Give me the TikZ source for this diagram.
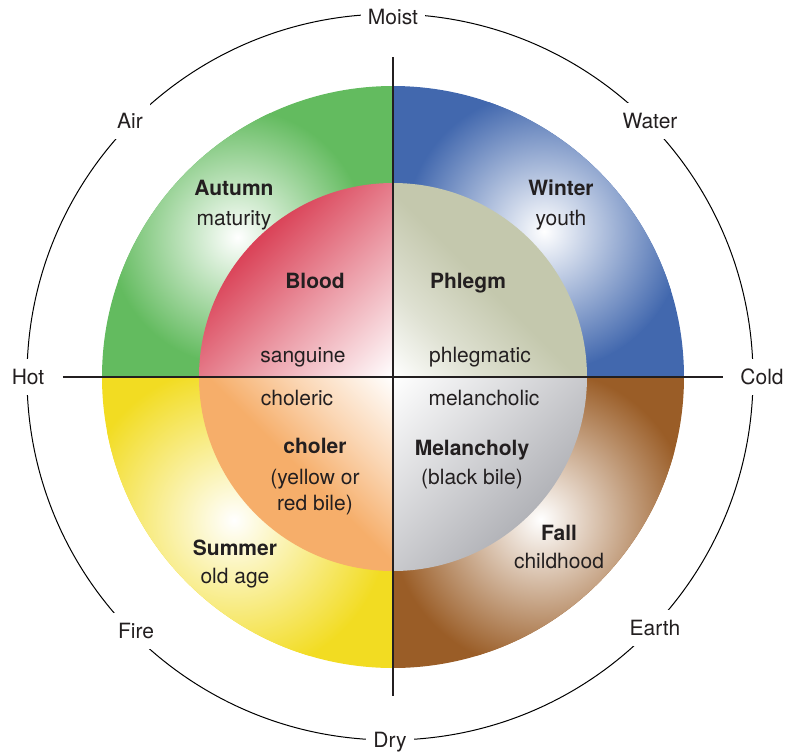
\documentclass[tikz,border=0pt]{standalone}
\usepackage{fontspec}
\setmainfont{TeX Gyre Heros}
\usetikzlibrary{positioning}

\definecolor{airgreen}{HTML}{63BB5F}
\definecolor{waterblue}{HTML}{4268AE}
\definecolor{fireyellow}{HTML}{F2DC22}
\definecolor{earthbrown}{HTML}{9A5D27}
\definecolor{bloodred}{HTML}{DA4358}
\definecolor{phlegmgrey}{HTML}{C4C8AD}
\definecolor{cholerorange}{HTML}{F6AE6A}
\definecolor{bilegrey}{HTML}{B2B3B8}
\definecolor{inkgrey}{HTML}{231F20}

% humour fades: white at the centre of the circle (50bp), full colour towards the rim
\pgfdeclareverticalshading{bloodfade}{100bp}{color(0bp)=(white); color(50bp)=(white);
    color(64bp)=(bloodred!55!white); color(75bp)=(bloodred); color(100bp)=(bloodred)}
\pgfdeclareverticalshading{phlegmfade}{100bp}{color(0bp)=(white); color(50bp)=(white);
    color(58bp)=(phlegmgrey!55!white); color(67bp)=(phlegmgrey); color(100bp)=(phlegmgrey)}
\pgfdeclareverticalshading{cholerfade}{100bp}{color(0bp)=(white); color(50bp)=(white);
    color(59bp)=(cholerorange!50!white); color(67bp)=(cholerorange); color(100bp)=(cholerorange)}
\pgfdeclareverticalshading{bilefade}{100bp}{color(0bp)=(white); color(50bp)=(white);
    color(75bp)=(bilegrey); color(100bp)=(bilegrey)}

\begin{document}
\begin{tikzpicture}[x=0.5pt,y=0.5pt,
    txt/.style={inner sep=0pt, text=inkgrey, font=\fontsize{10.5}{12}\selectfont,
                text height=8.6pt, text depth=1.2pt},
    bold/.style={txt, font=\fontsize{10.5}{12}\selectfont\bfseries},
    quality/.style={txt, fill=white, inner xsep=3.5pt, inner ysep=4pt},
    crossline/.style={draw=inkgrey, line width=0.65pt},
    rim/.style={draw=black, line width=0.5pt}]
    \useasboundingbox (-393,-375) rectangle (400,377);

    % Outer circle of qualities
    \draw[rim] (-3,0) circle (363);

    % Ring of seasons
    \begin{scope}
        \clip (0,0) -- (90:291) arc (90:180:291) -- cycle;
        \fill[airgreen] (-291,0) rectangle (0,291);
        \shade[inner color=white, outer color=airgreen] (138:209) circle (128);
    \end{scope}
    \begin{scope}
        \clip (0,0) -- (0:291) arc (0:90:291) -- cycle;
        \fill[waterblue] (0,0) rectangle (291,291);
        \shade[inner color=white, outer color=waterblue] (44:210) circle (140);
    \end{scope}
    \begin{scope}
        \clip (0,0) -- (180:291) arc (180:270:291) -- cycle;
        \fill[fireyellow] (-291,-291) rectangle (0,0);
        \shade[inner color=white, outer color=fireyellow] (222:214) circle (155);
    \end{scope}
    \begin{scope}
        \clip (0,0) -- (270:291) arc (270:360:291) -- cycle;
        \fill[earthbrown] (0,-291) rectangle (291,0);
        \shade[inner color=white, outer color=earthbrown] (316:205) circle (150);
    \end{scope}

    % Inner circle of humours
    \begin{scope}
        \clip (0,0) -- (90:194) arc (90:180:194) -- cycle;
        \shade[shading=bloodfade, shading angle=45] (-194,-194) rectangle (194,194);
    \end{scope}
    \begin{scope}
        \clip (0,0) -- (0:194) arc (0:90:194) -- cycle;
        \shade[shading=phlegmfade, shading angle=-45] (-194,-194) rectangle (194,194);
    \end{scope}
    \begin{scope}
        \clip (0,0) -- (180:194) arc (180:270:194) -- cycle;
        \shade[shading=cholerfade, shading angle=135] (-194,-194) rectangle (194,194);
    \end{scope}
    \begin{scope}
        \clip (0,0) -- (270:194) arc (270:360:194) -- cycle;
        \shade[shading=bilefade, shading angle=225] (-194,-194) rectangle (194,194);
    \end{scope}

    % Cross
    \coordinate (topend) at (0,320);
    \coordinate (bottomend) at (0,-319);
    \coordinate (leftend) at (-330,0);
    \coordinate (rightend) at (330,0);
    \draw[crossline] (topend) -- (bottomend);
    \draw[crossline] (leftend) -- (rightend);

    % Qualities and elements
    \node[quality] (moist) at (0,360) {Moist};
    \node[quality] (dry) at (-3,-363) {Dry};
    \node[quality] (hot) at (-365,0) {Hot};
    \node[quality] (cold) at (369,0) {Cold};
    \node[quality] (air) at (-263,256) {Air};
    \node[quality] (water) at (257,256) {Water};
    \node[quality] (fire) at (-257,-254) {Fire};
    \node[quality] (earth) at (262,-251) {Earth};

    % Seasons and ages
    \node[bold] (autumn) at (-159,189) {Autumn};
    \node[txt, below=4.7pt of autumn] (maturity) {maturity};
    \node[bold] (winter) at (168,189) {Winter};
    \node[txt, below=4.7pt of winter] (youth) {youth};
    \node[bold] (summer) at (-158,-171) {Summer};
    \node[txt, below=3.7pt of summer] (oldage) {old age};
    \node[bold] (fall) at (166,-156) {Fall};
    \node[txt, below=3.7pt of fall] (childhood) {childhood};

    % Humours and temperaments
    \node[bold] (blood) at (-78,96) {Blood};
    \node[txt] (sanguine) at (-90,22) {sanguine};
    \node[bold] (phlegm) at (75,96) {Phlegm};
    \node[txt] (phlegmatic) at (87,22) {phlegmatic};
    \node[txt] (choleric) at (-96,-21) {choleric};
    \node[txt] (melancholic) at (91,-21) {melancholic};
    \node[bold] (choler) at (-78,-69) {choler};
    \node[txt, below=5.2pt of choler] (yellow) {(yellow or};
    \node[txt, below=2.7pt of yellow] (redbile) {red bile)};
    \node[bold] (melancholy) at (79,-71) {Melancholy};
    \node[txt, below=4.2pt of melancholy] (blackbile) {(black bile)};
\end{tikzpicture}
\end{document}
